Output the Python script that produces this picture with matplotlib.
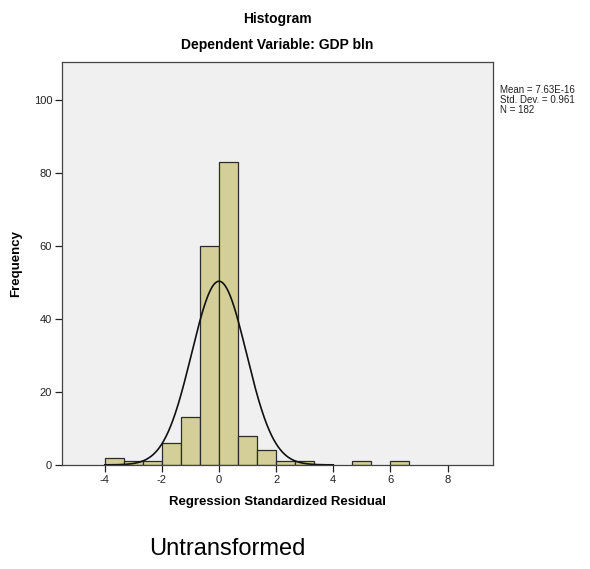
import numpy as np
import matplotlib.pyplot as plt

plt.rcParams['font.family'] = ['Liberation Sans', 'DejaVu Sans']
plt.rcParams['axes.unicode_minus'] = False

# histogram bins (width 2/3) and counts
bin_edges = [-4.0, -10/3, -8/3, -2.0, -4/3, -2/3, 0.0, 2/3, 4/3, 2.0, 8/3, 10/3, 4.0, 14/3, 16/3, 6.0, 20/3]
counts = [2, 1, 1, 6, 13, 60, 83, 8, 4, 1, 1, 0, 0, 1, 0, 1]
mean = 7.63e-16
std = 0.961
n = 182
x_ticks = [-4, -2, 0, 2, 4, 6, 8]
y_ticks = [0, 20, 40, 60, 80, 100]

fig = plt.figure(figsize=(5.9, 5.69), dpi=100)
ax = fig.add_axes([0.105, 0.183, 0.731, 0.708])
ax.set_facecolor('#f0f0f0')

edges = np.array(bin_edges)
widths = np.diff(edges)
for left, w, c in zip(edges[:-1], widths, counts):
    if c > 0:
        ax.bar(left, c, width=w, align='edge', color='#d4cf98',
               edgecolor='#2b2b2b', linewidth=0.9)

# normal curve scaled to counts
bw = widths[0]
xs = np.linspace(-4.0, 4.0, 400)
ys = n * bw * np.exp(-0.5 * ((xs - mean) / std) ** 2) / (std * np.sqrt(2 * np.pi))
ax.plot(xs, ys, color='#111111', linewidth=1.2)

ax.set_xlim(-5.5, 9.6)
ax.set_ylim(0, 110.5)
ax.set_xticks(x_ticks)
ax.set_yticks(y_ticks)
ax.tick_params(labelsize=8, length=5, width=0.9, colors='#222222', pad=2)
for s in ax.spines.values():
    s.set_color('#444444')
    s.set_linewidth(0.9)

ax.set_xlabel('Regression Standardized Residual', fontsize=9.5, fontweight='bold', labelpad=8)
ax.set_ylabel('Frequency', fontsize=9.5, fontweight='bold', labelpad=8)

fig.text(0.47, 0.967, 'Histogram', ha='center', va='center', fontsize=10, fontweight='bold')
fig.text(0.47, 0.921, 'Dependent Variable: GDP bln', ha='center', va='center', fontsize=10, fontweight='bold')
fig.text(0.847, 0.85, 'Mean = 7.63E-16\nStd. Dev. = 0.961\nN = 182', ha='left', va='top',
         fontsize=7, linespacing=0.95, color='#222222')
fig.text(0.385, 0.035, 'Untransformed', ha='center', va='center', fontsize=17)

fig.savefig('out.png', dpi=100)
